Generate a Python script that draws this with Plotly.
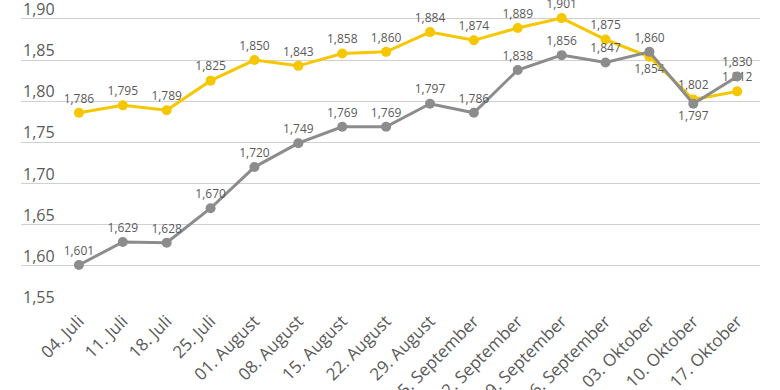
import plotly.graph_objects as go

categories = ["04. Juli", "11. Juli", "18. Juli", "25. Juli", "01. August", "08. August",
              "15. August", "22. August", "29. August", "05. September", "12. September",
              "19. September", "26. September", "03. Oktober", "10. Oktober", "17. Oktober"]
yellow_values = [1.786, 1.795, 1.789, 1.825, 1.850, 1.843, 1.858, 1.860, 1.884, 1.874,
                 1.889, 1.901, 1.875, 1.854, 1.802, 1.812]
gray_values = [1.601, 1.629, 1.628, 1.670, 1.720, 1.749, 1.769, 1.769, 1.797, 1.786,
               1.838, 1.856, 1.847, 1.860, 1.797, 1.830]
y_ticks = [1.55, 1.60, 1.65, 1.70, 1.75, 1.80, 1.85, 1.90]
y_tick_labels = ["1,55", "1,60", "1,65", "1,70", "1,75", "1,80", "1,85", "1,90"]

yellow_pos = ["top center"] * len(categories)
yellow_pos[13] = "bottom center"
gray_pos = ["top center"] * len(categories)
gray_pos[14] = "bottom center"

YELLOW = "#F6C700"
GRAY = "#8C8C8C"
TXT = "#5a5a5a"
X_MIN, X_MAX = -1.32, 15.52

fig = go.Figure()
fig.add_trace(go.Scatter(
    x=categories, y=yellow_values, mode="lines+markers+text",
    line=dict(color=YELLOW, width=3), marker=dict(color=YELLOW, size=10),
    texttemplate="%{y:.3f}",
    textposition=yellow_pos, textfont=dict(family="Open Sans", size=12, color=TXT),
    cliponaxis=False, showlegend=False))
fig.add_trace(go.Scatter(
    x=categories, y=gray_values, mode="lines+markers+text",
    line=dict(color=GRAY, width=3), marker=dict(color=GRAY, size=10),
    texttemplate="%{y:.3f}",
    textposition=gray_pos, textfont=dict(family="Open Sans", size=12, color=TXT),
    cliponaxis=False, showlegend=False))

for v, lab in zip(y_ticks, y_tick_labels):
    fig.add_annotation(x=X_MIN, xref="x", y=v, yref="y", text=lab, showarrow=False,
                       xanchor="left", yanchor="bottom", yshift=-3,
                       font=dict(family="Open Sans", size=16, color=TXT))

fig.update_layout(
    width=780, height=390,
    margin=dict(l=21, r=20, t=0, b=83),
    paper_bgcolor="white", plot_bgcolor="white",
    separators=",.",
    font=dict(family="Open Sans", color=TXT),
    xaxis=dict(type="category", range=[X_MIN, X_MAX], tickangle=-45, automargin=False,
               tickfont=dict(size=17, color=TXT), showgrid=False, zeroline=False,
               showline=False, ticks=""),
    yaxis=dict(range=[1.55, 1.923], tickvals=y_ticks, showticklabels=False, automargin=False,
               showgrid=True, gridcolor="#d0d0d0", gridwidth=1, zeroline=False,
               showline=False, ticks=""),
)

fig.write_html("out.html", config={"displayModeBar": False},
               post_script="document.body.style.margin='0';")
